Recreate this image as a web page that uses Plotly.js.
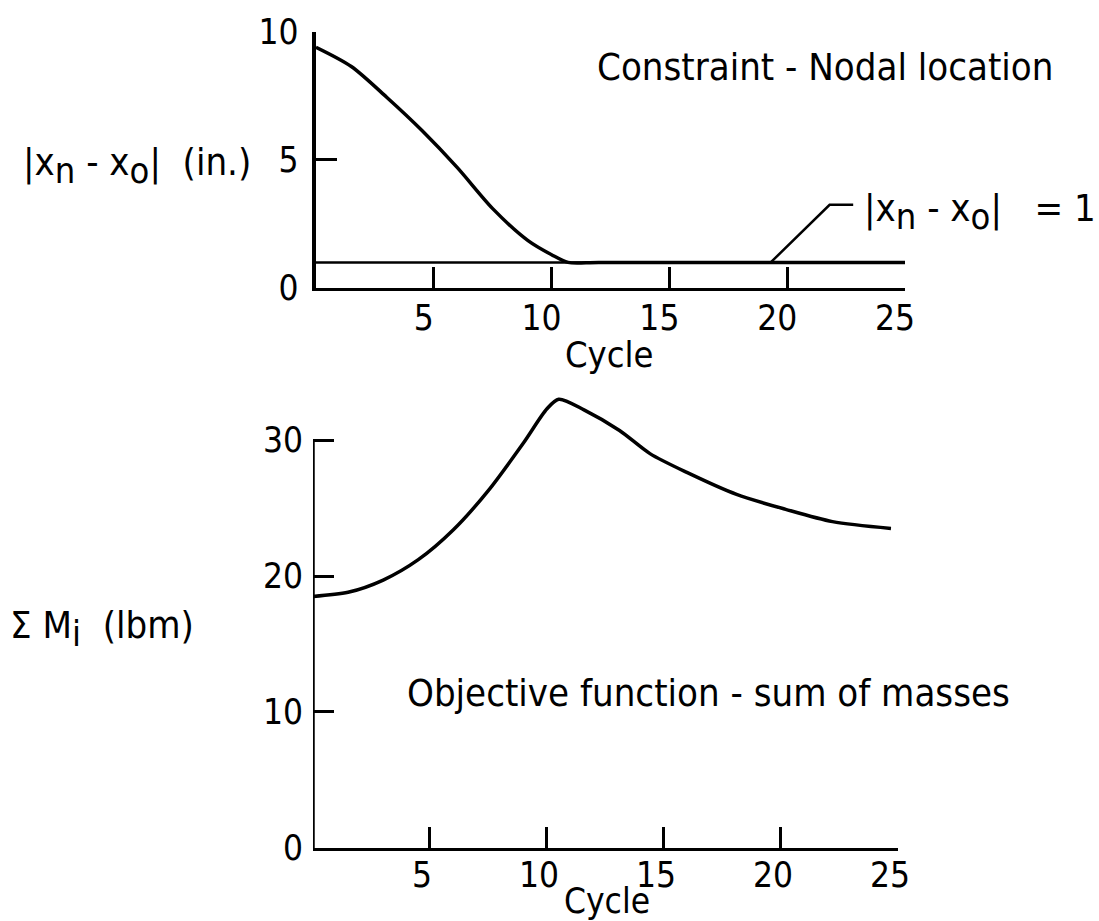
<!DOCTYPE html>
<html><head><meta charset="utf-8">
<script src="https://cdn.plot.ly/plotly-3.0.1.min.js"></script>
<style>html,body{margin:0;padding:0;background:#fff}#chart{width:1099px;height:921px}</style>
</head><body><div id="chart"></div>
<script>
const FONT = '"DejaVu Sans Condensed", "DejaVu Sans", sans-serif';

// Top panel: constraint - nodal location
const cycleTop = [0, 1.5, 3, 4.5, 6, 7.5, 9, 10, 10.7, 12, 25];
const nodalDev = [9.4, 8.65, 7.45, 6.15, 4.7, 3.1, 1.85, 1.3, 1.0, 1.0, 1.0];
const constraintX = [0, 25];
const constraintY = [1, 1];
const leaderX = [19.3, 21.8, 22.8];
const leaderY = [1, 3.25, 3.25];

// Bottom panel: objective function - sum of masses
const cycleBottom = [0, 1.5, 3, 4.5, 6, 7.5, 9, 10, 10.5, 11.6, 13.1, 14.4, 16.0, 18.1, 20.2, 22.2, 24.7];
const massSum = [18.5, 18.8, 19.7, 21.2, 23.4, 26.3, 29.8, 32.3, 33.0, 32.2, 30.7, 29.0, 27.6, 26.0, 24.9, 24.0, 23.5];

const xTicks = [5, 10, 15, 20, 25];
const yTicksTop = [0, 5, 10];
const yTicksBottom = [0, 10, 20, 30];

const line = {color: '#000', width: 3.5, shape: 'spline', smoothing: 0.8};

const traces = [
  {x: cycleTop, y: nodalDev, xaxis: 'x', yaxis: 'y', mode: 'lines', line: line, hoverinfo: 'skip'},
  {x: constraintX, y: constraintY, xaxis: 'x', yaxis: 'y', mode: 'lines', line: {color: '#000', width: 2.5}, hoverinfo: 'skip'},
  {x: leaderX, y: leaderY, xaxis: 'x', yaxis: 'y', mode: 'lines', line: {color: '#000', width: 2.5}, hoverinfo: 'skip', cliponaxis: false},
  {x: cycleBottom, y: massSum, xaxis: 'x2', yaxis: 'y2', mode: 'lines', line: line, hoverinfo: 'skip'}
];

const axBase = {
  ticks: 'inside', ticklen: 21, tickwidth: 3, tickcolor: '#000',
  showline: true, linewidth: 3.5, linecolor: '#000',
  showgrid: false, zeroline: false,
  tickfont: {family: FONT, size: 35, color: '#000'},
  fixedrange: true
};

const sub = s => '<sub><span style="font-size:36px">' + s + '</span></sub>';
const TXT = {family: FONT, size: 38, color: '#000'};
const ann = (x, y, text, extra) => Object.assign({
  xref: 'paper', yref: 'paper', x: x, y: y, text: text, showarrow: false,
  xanchor: 'center', yanchor: 'middle', font: TXT
}, extra || {});

const layout = {
  width: 1099, height: 921,
  margin: {l: 0, r: 0, t: 0, b: 0},
  paper_bgcolor: '#fff', plot_bgcolor: 'rgba(0,0,0,0)',
  showlegend: false,
  font: {family: FONT, color: '#000'},
  xaxis: Object.assign({}, axBase, {domain: [0.2875, 0.8235], range: [0, 25], anchor: 'y', tickvals: xTicks, ticklabelstandoff: -3, ticklabelshift: -10}),
  yaxis: Object.assign({}, axBase, {domain: [0.6873, 0.9653], range: [0, 10], anchor: 'x', tickvals: yTicksTop, ticklabelstandoff: 7}),
  xaxis2: Object.assign({}, axBase, {domain: [0.2848, 0.8171], range: [0, 25], anchor: 'y2', tickvals: xTicks, ticklabelstandoff: -6, ticklabelshift: -8}),
  yaxis2: Object.assign({}, axBase, {domain: [0.0793, 0.5813], range: [0, 34], anchor: 'x2', tickvals: yTicksBottom, showline: false, ticklabelstandoff: 9}),
  shapes: [
    {type: 'line', xref: 'x2', yref: 'y2', x0: 0, x1: 0, y0: 0, y1: 30, line: {color: '#000', width: 3.5}}
  ],
  annotations: [
    ann(0.555, 0.615, 'Cycle', {font: {family: FONT, size: 36, color: '#000'}}),
    ann(0.552, 0.022, 'Cycle', {font: {family: FONT, size: 35, color: '#000'}}),
    ann(0.7507, 0.9273, 'Constraint - Nodal location'),
    ann(0.645, 0.2476, 'Objective function - sum of masses'),
    ann(0.125, 0.8208, '|x' + sub('n') + ' - x' + sub('o') + '|  (in.)'),
    ann(0.093, 0.318, '\u03A3 M' + sub('i') + '  (lbm)'),
    ann(0.7843, 0.770, '|x' + sub('n') + ' - x' + sub('o') + '|   = 1', {xanchor: 'left'})
  ]
};

Plotly.newPlot('chart', traces, layout, {displayModeBar: false, staticPlot: true});
</script>
</body></html>
